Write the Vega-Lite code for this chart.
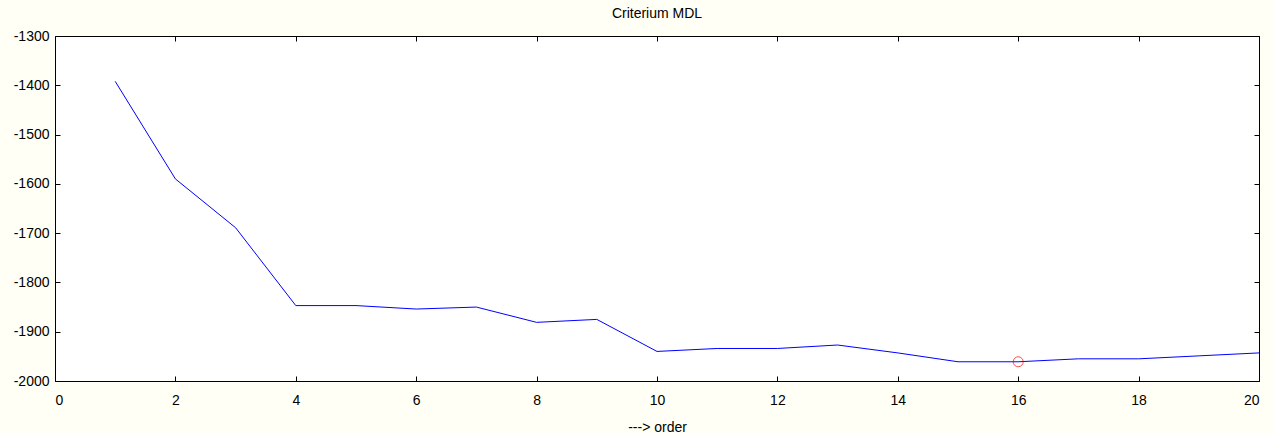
{
  "$schema": "https://vega.github.io/schema/vega-lite/v6.json",
  "width": 1204,
  "height": 345,
  "autosize": {"type": "none"},
  "padding": {"left": 55, "top": 36, "right": 14, "bottom": 53},
  "background": "#fffff5",
  "title": {"text": "Criterium MDL", "fontSize": 14, "font": "Liberation Sans", "fontWeight": "normal", "color": "black", "offset": 8},
  "config": {
    "view": {"fill": "white", "stroke": "black", "strokeWidth": 1},
    "axis": {
      "grid": false,
      "domain": false,
      "tickSize": -5,
      "tickColor": "black",
      "labelFont": "Liberation Sans",
      "labelFontSize": 14,
      "labelColor": "black",
      "titleFont": "Liberation Sans",
      "titleFontSize": 14,
      "titleFontWeight": "normal",
      "titleColor": "black"
    }
  },
  "data": {
    "values": [
      {"order": 1, "mdl": -1392},
      {"order": 2, "mdl": -1590},
      {"order": 3, "mdl": -1689},
      {"order": 4, "mdl": -1847},
      {"order": 5, "mdl": -1847},
      {"order": 6, "mdl": -1854},
      {"order": 7, "mdl": -1850},
      {"order": 8, "mdl": -1881},
      {"order": 9, "mdl": -1875},
      {"order": 10, "mdl": -1940},
      {"order": 11, "mdl": -1934},
      {"order": 12, "mdl": -1934},
      {"order": 13, "mdl": -1927},
      {"order": 14, "mdl": -1943},
      {"order": 15, "mdl": -1961},
      {"order": 16, "mdl": -1961},
      {"order": 17, "mdl": -1955},
      {"order": 18, "mdl": -1955},
      {"order": 19, "mdl": -1949},
      {"order": 20, "mdl": -1943}
    ]
  },
  "layer": [
    {
      "mark": {"type": "line", "color": "#0000ff", "strokeWidth": 1},
      "encoding": {
        "x": {"field": "order", "type": "quantitative", "scale": {"domain": [0, 20], "nice": false}, "title": "---> order",
              "axis": {"values": [0, 2, 4, 6, 8, 10, 12, 14, 16, 18, 20], "labelPadding": 17, "titlePadding": 13, "orient": "bottom", "labelExpr": "'' + datum.value"}},
        "y": {"field": "mdl", "type": "quantitative", "scale": {"domain": [-2000, -1300], "nice": false, "zero": false}, "title": null,
              "axis": {"values": [-2000, -1900, -1800, -1700, -1600, -1500, -1400, -1300], "labelPadding": 11, "orient": "left", "labelExpr": "'' + datum.value"}}
      }
    },
    {
      "transform": [{"filter": "datum.order == 16"}],
      "mark": {"type": "point", "shape": "circle", "filled": false, "color": "red", "size": 100, "strokeWidth": 1},
      "encoding": {
        "x": {"field": "order", "type": "quantitative", "title": null,
              "axis": {"orient": "top", "labels": false, "values": [0, 2, 4, 6, 8, 10, 12, 14, 16, 18, 20]}},
        "y": {"field": "mdl", "type": "quantitative", "title": null,
              "axis": {"orient": "right", "labels": false, "values": [-2000, -1900, -1800, -1700, -1600, -1500, -1400, -1300]}}
      }
    }
  ],
  "resolve": {"axis": {"x": "independent", "y": "independent"}}
}
